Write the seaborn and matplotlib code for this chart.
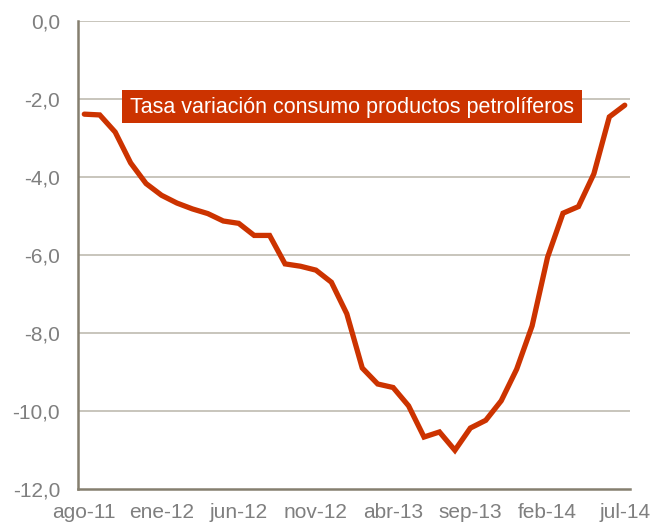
import numpy as np
import pandas as pd
import matplotlib
matplotlib.use("Agg")
import matplotlib.pyplot as plt
from matplotlib.patches import Rectangle
import seaborn as sns

months = ['ago-11', 'sep-11', 'oct-11', 'nov-11', 'dic-11',
          'ene-12', 'feb-12', 'mar-12', 'abr-12', 'may-12',
          'jun-12', 'jul-12', 'ago-12', 'sep-12', 'oct-12',
          'nov-12', 'dic-12', 'ene-13', 'feb-13', 'mar-13',
          'abr-13', 'may-13', 'jun-13', 'jul-13', 'ago-13',
          'sep-13', 'oct-13', 'nov-13', 'dic-13', 'ene-14',
          'feb-14', 'mar-14', 'abr-14', 'may-14', 'jun-14', 'jul-14']
tasa = [-2.39, -2.41, -2.85, -3.64, -4.17, -4.47, -4.67, -4.82, -4.94, -5.13,
        -5.19, -5.50, -5.50, -6.23, -6.29, -6.39, -6.70, -7.51, -8.90, -9.31,
        -9.40, -9.87, -10.67, -10.54, -11.01, -10.44, -10.24, -9.74, -8.93, -7.82,
        -6.06, -4.93, -4.76, -3.92, -2.46, -2.16]
label = 'Tasa variación consumo productos petrolíferos'

df = pd.DataFrame({'idx': np.arange(len(months)), 'mes': months, 'tasa': tasa})

sns.set_style('white')
plt.rcParams['font.family'] = ['Liberation Sans', 'DejaVu Sans']

red = '#CC3300'
grey_txt = '#7F7F7F'
spine_col = '#857F6F'
grid_col = '#C4C0B6'

fig = plt.figure(figsize=(6.51, 5.24), dpi=100)
ax = fig.add_axes([0.12, 0.067, 0.848, 0.893])

for v in [0, -2, -4, -6, -8, -10]:
    ax.axhline(v, color=grid_col, lw=1.3, zorder=0)

sns.lineplot(data=df, x='idx', y='tasa', color=red, lw=3.8, ax=ax,
             solid_joinstyle='miter', zorder=3)

ax.set_xlim(-0.4, 35.35)
ax.set_ylim(-12, 0)
ax.set_yticks(np.arange(-12, 1, 2))
ax.set_yticklabels([f'{v:.1f}'.replace('.', ',') for v in np.arange(-12, 1, 2)])
ticks = list(range(0, len(months), 5))
ax.set_xticks(ticks)
ax.set_xticklabels([months[i] for i in ticks])
ax.tick_params(axis='both', length=0, labelsize=15, colors=grey_txt)
ax.tick_params(axis='y', pad=13)
ax.tick_params(axis='x', pad=10.5)
ax.set_xlabel('')
ax.set_ylabel('')

for s in ['top', 'right']:
    ax.spines[s].set_visible(False)
for s in ['left', 'bottom']:
    ax.spines[s].set_color(spine_col)
    ax.spines[s].set_linewidth(1.8)

# label box
ax.add_patch(Rectangle((0.0797, 0.782), 0.8333, 0.0706, transform=ax.transAxes,
                       facecolor=red, edgecolor='none', zorder=4, clip_on=False))
ax.text(0.4965, 0.815, label, transform=ax.transAxes, color='white',
        fontsize=15.5, va='center', ha='center', zorder=5)

fig.savefig('out.png', dpi=100)
